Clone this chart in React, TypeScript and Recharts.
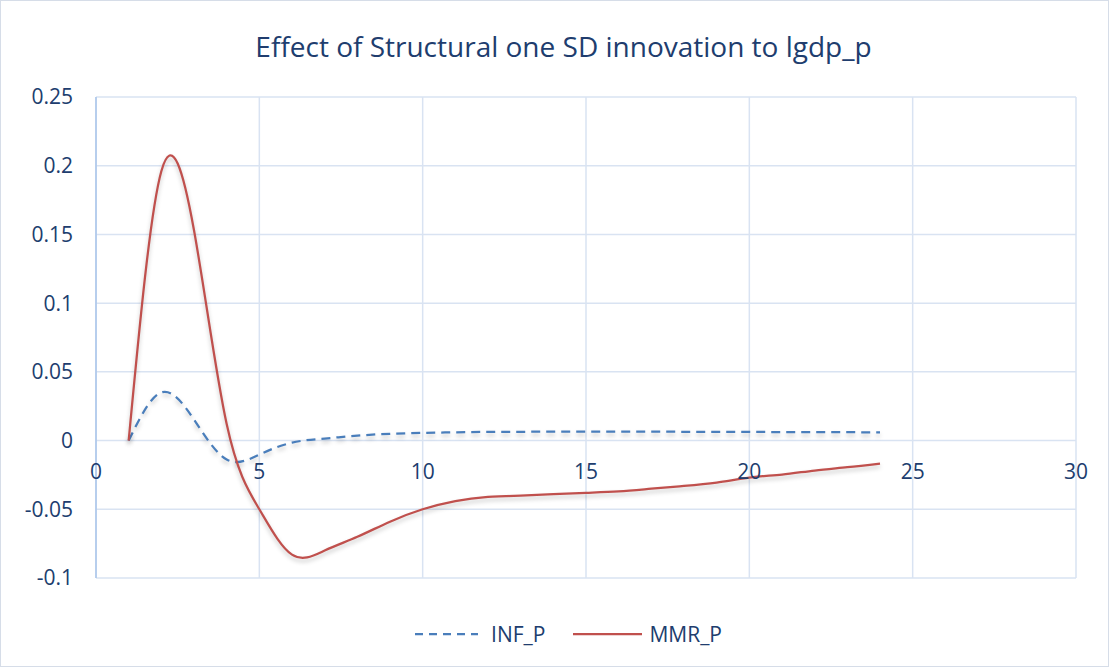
import React from "react";
import { LineChart, Line, XAxis, YAxis, CartesianGrid } from "recharts";

// impulse response periods
const periods = [1, 2, 3, 4, 5, 6, 7, 8, 9, 10, 11, 12, 13, 14, 15, 16, 17, 18, 19, 20, 21, 22, 23, 24];
const infP = [0, 0.035, 0.0153, -0.0138, -0.0102, -0.0015, 0.0015, 0.0036, 0.0049, 0.0056, 0.006, 0.0063, 0.0064, 0.0065, 0.0065, 0.0065, 0.0065, 0.0064, 0.0064, 0.0063, 0.0062, 0.0062, 0.0061, 0.006];
const mmrP = [0, 0.196, 0.153, 0.012, -0.05, -0.083, -0.08, -0.07, -0.059, -0.05, -0.044, -0.041, -0.04, -0.039, -0.038, -0.037, -0.035, -0.033, -0.0306, -0.027, -0.0247, -0.0218, -0.0194, -0.0167];

const xTicks = [0, 5, 10, 15, 20, 25, 30];
const yTicks = [-0.1, -0.05, 0, 0.05, 0.1, 0.15, 0.2, 0.25];

const data = periods.map((p, i) => ({ period: p, INF_P: infP[i], MMR_P: mmrP[i] }));

const W = 1109;
const H = 667;
const TOP = 97;
const BOTTOM = 578;
const yMin = -0.1;
const yMax = 0.25;
const zeroY = TOP + ((BOTTOM - TOP) * (yMax - 0)) / (yMax - yMin);

const textColor = "#203d6e";
const gridColor = "#d9e3f2";
const font = "'Open Sans', sans-serif";

// x labels sit next to the zero line, like Excel's crossing axis
const XTick = (props: any) => {
  const { x, payload } = props;
  return (
    <text x={x} y={zeroY + 38} textAnchor="middle" fill={textColor} fontSize={21} fontFamily={font}>
      {payload.value}
    </text>
  );
};

const LegendBox = () => (
  <div
    style={{
      position: "absolute",
      top: 619,
      left: 0,
      width: W,
      display: "flex",
      justifyContent: "center",
      alignItems: "center",
      fontFamily: font,
      fontSize: 21,
      color: textColor,
      paddingLeft: 26,
      boxSizing: "border-box",
    }}
  >
    <svg width={63} height={10}>
      <line x1={0} y1={5} x2={63} y2={5} stroke="#4a7ebb" strokeWidth={2.25} strokeDasharray="8 6" />
    </svg>
    <span style={{ marginLeft: 13 }}>INF_P</span>
    <svg width={69} height={10} style={{ marginLeft: 28 }}>
      <line x1={0} y1={5} x2={69} y2={5} stroke="#c0504d" strokeWidth={2.25} />
    </svg>
    <span style={{ marginLeft: 7 }}>MMR_P</span>
  </div>
);

export default function App() {
  return (
    <div
      style={{
        position: "absolute",
        left: 0,
        top: 0,
        width: W,
        height: H,
        boxSizing: "border-box",
        border: "1px solid #d6dde8",
        background: "#fff",
      }}
    >
      <style>{`.recharts-line-curve { filter: drop-shadow(0px 3px 2px rgba(0,0,0,0.22)); }`}</style>
      <div
        style={{
          position: "absolute",
          top: 26,
          left: 8,
          width: W,
          textAlign: "center",
          fontFamily: font,
          fontSize: 28,
          color: textColor,
        }}
      >
        Effect of Structural one SD innovation to lgdp_p
      </div>
      <div style={{ position: "absolute", left: -1, top: -1 }}>
        <LineChart width={W} height={H} data={data} margin={{ top: TOP, right: W - 1076, bottom: H - BOTTOM - 1, left: 0 }}>
          <CartesianGrid stroke={gridColor} strokeWidth={1.5} />
          <XAxis
            dataKey="period"
            type="number"
            domain={[0, 30]}
            ticks={xTicks}
            height={1}
            axisLine={false}
            tickLine={false}
            tick={<XTick />}
            interval={0}
          />
          <YAxis
            type="number"
            domain={[yMin, yMax]}
            ticks={yTicks}
            width={96}
            axisLine={{ stroke: "#a9c5ea", strokeWidth: 1.5 }}
            tickLine={false}
            tickSize={0}
            tickMargin={23}
            interval={0}
            tick={{ fill: textColor, fontSize: 21, fontFamily: font }}
          />
          <Line
            type="natural"
            dataKey="INF_P"
            stroke="#4a7ebb"
            strokeWidth={2.25}
            strokeDasharray="9 6"
            dot={false}
            isAnimationActive={false}
          />
          <Line
            type="natural"
            dataKey="MMR_P"
            stroke="#c0504d"
            strokeWidth={2.25}
            dot={false}
            isAnimationActive={false}
          />
        </LineChart>
      </div>
      <LegendBox />
    </div>
  );
}
